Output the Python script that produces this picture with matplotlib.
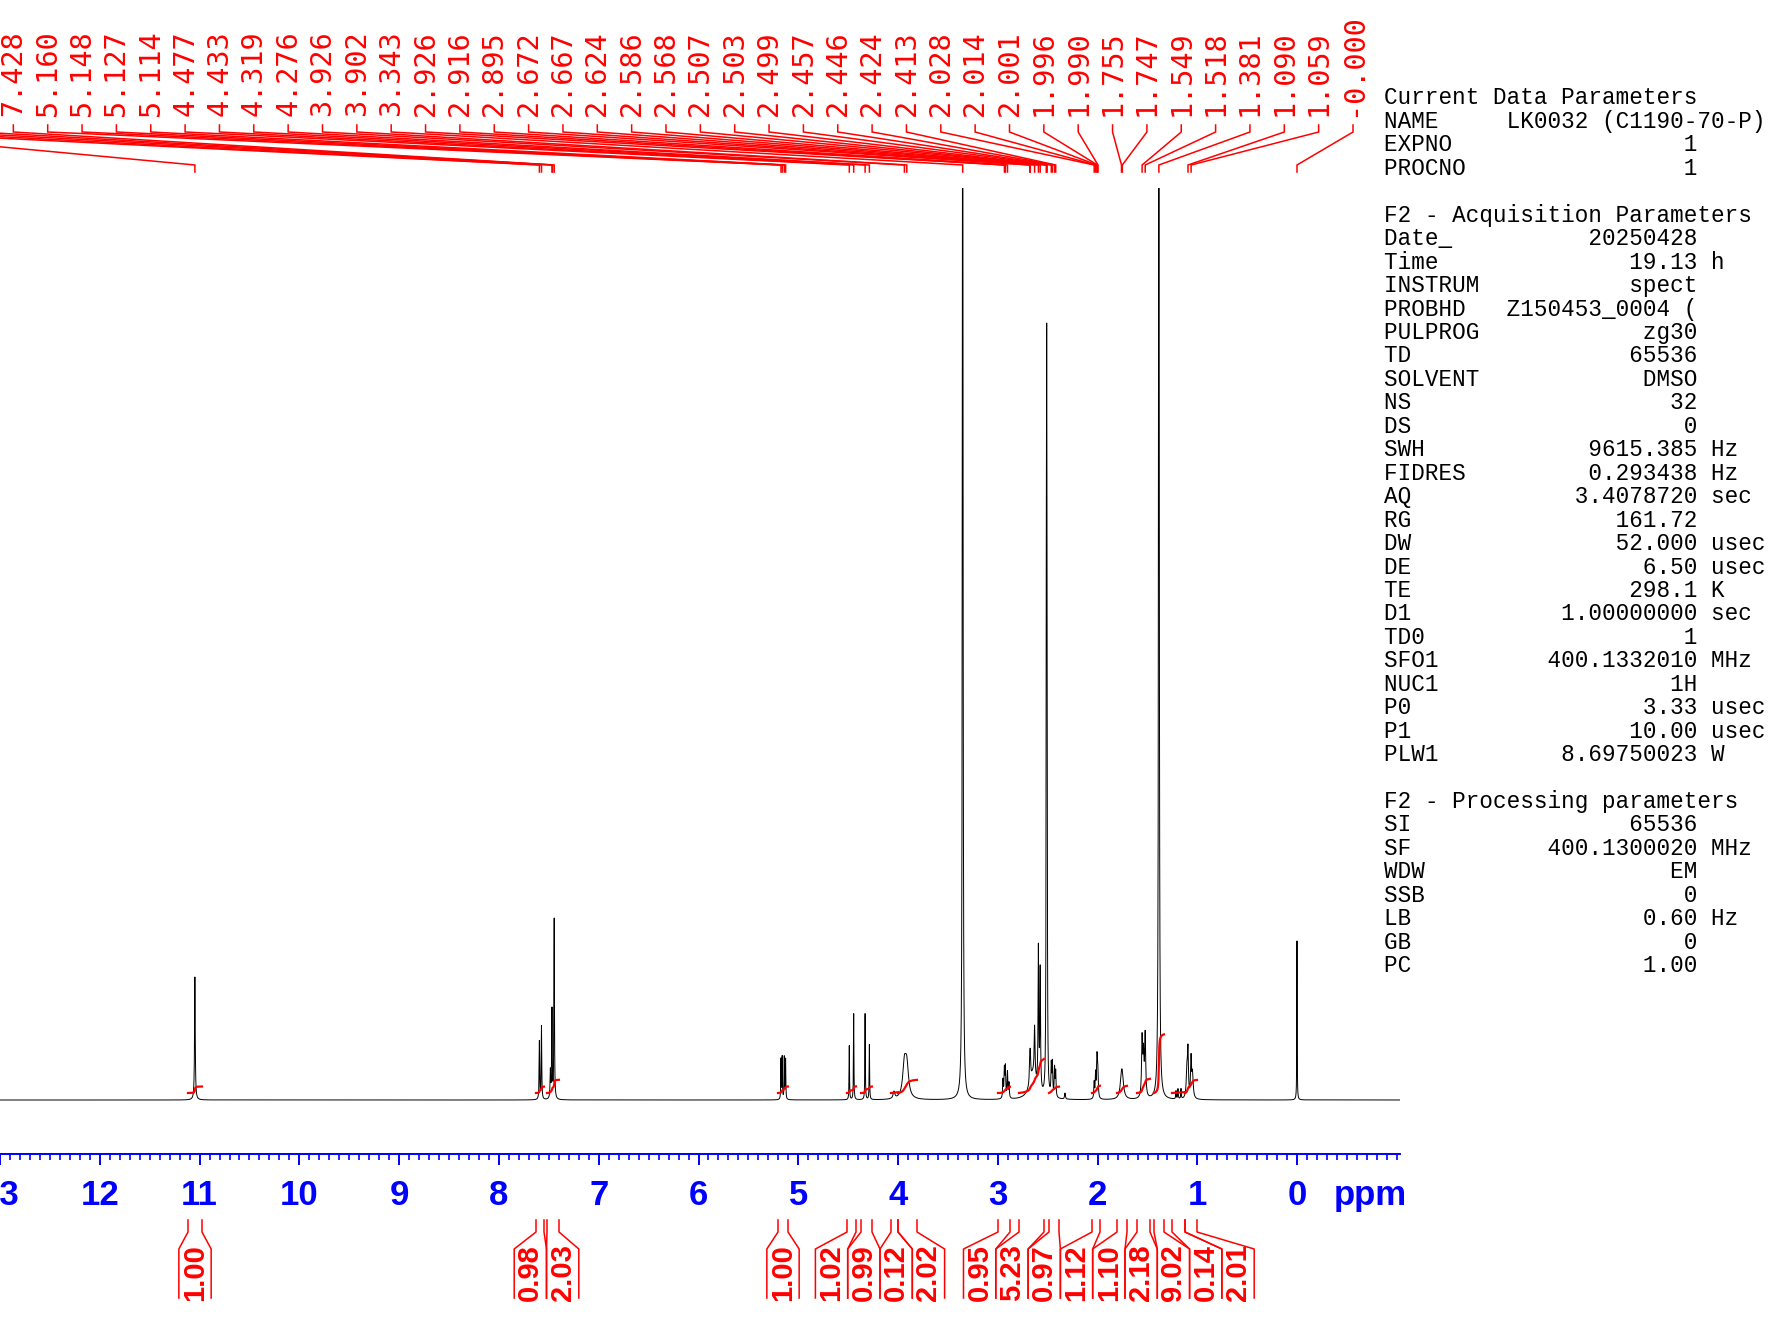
import numpy as np
import matplotlib
matplotlib.use("Agg")
import matplotlib.pyplot as plt

W, H = 1788, 1324

# ---- spectrum peaks: position (ppm), height (arb., 912 = top of plot), half width (ppm)
peak_ppm = [11.021, 7.576, 7.555, 7.466, 7.450, 7.428,
            5.160, 5.148, 5.127, 5.114,
            4.477, 4.433, 4.319, 4.276, 4.030, 3.926, 3.902,
            3.343, 2.940, 2.926, 2.916, 2.895, 2.880,
            2.640, 2.672, 2.667, 2.624, 2.586, 2.568,
            2.507, 2.503, 2.499, 2.457, 2.446, 2.424, 2.413, 2.320,
            2.028, 2.014, 2.001, 1.996, 1.990, 1.755, 1.747,
            1.549, 1.535, 1.518, 1.381, 1.210, 1.190, 1.160,
            1.100, 1.090, 1.059, 1.045, 0.000]
peak_height = [123, 58, 73, 28, 88, 180,
               40, 42, 42, 40,
               54, 86, 86, 55, 7, 32, 31,
               1200, 18, 28, 30, 26, 15,
               25, 20, 22, 50, 140, 120,
               380, 560, 380, 30, 32, 28, 25, 6,
               16, 24, 32, 26, 20, 17, 16,
               58, 40, 62, 1200, 8, 10, 10,
               30, 42, 38, 25, 159]
peak_width = [0.004, 0.003, 0.003, 0.004, 0.003, 0.003,
              0.0025, 0.0025, 0.0025, 0.0025,
              0.0025, 0.0025, 0.0025, 0.0025, 0.01, 0.02, 0.02,
              0.004, 0.004, 0.004, 0.004, 0.004, 0.004,
              0.04, 0.005, 0.005, 0.005, 0.004, 0.004,
              0.0025, 0.0025, 0.0025, 0.004, 0.004, 0.004, 0.004, 0.005,
              0.004, 0.004, 0.004, 0.004, 0.004, 0.015, 0.015,
              0.006, 0.006, 0.006, 0.004, 0.003, 0.003, 0.003,
              0.008, 0.005, 0.005, 0.008, 0.002]

# ---- peak picking labels (the first ones run off the page, only their leaders show)
peak_labels = ["11.021", "7.576", "7.555", "7.450", "7.445",
               "7.428", "5.160", "5.148", "5.127", "5.114", "4.477", "4.433",
               "4.319", "4.276", "3.926", "3.902", "3.343", "2.926", "2.916",
               "2.895", "2.672", "2.667", "2.624", "2.586", "2.568", "2.507",
               "2.503", "2.499", "2.457", "2.446", "2.424", "2.413", "2.028",
               "2.014", "2.001", "1.996", "1.990", "1.755", "1.747", "1.549",
               "1.518", "1.381", "1.090", "1.059", "-0.000"]

# ---- integrals
int_from = [11.09, 7.61, 7.50, 5.19, 4.50, 4.36, 4.06, 3.99, 2.99, 2.78, 2.48,
            2.05, 1.80, 1.60, 1.43, 1.25, 1.12]
int_to = [10.95, 7.53, 7.38, 5.09, 4.41, 4.25, 3.99, 3.80, 2.87, 2.53, 2.38,
          1.97, 1.70, 1.47, 1.33, 1.12, 1.00]
int_value = ["1.00", "0.98", "2.03", "1.00", "1.02", "0.99", "0.12", "2.02",
             "0.95", "5.23", "0.97", "1.12", "1.10", "2.18", "9.02", "0.14", "2.01"]

# ---- acquisition parameters
cur_rows = [("NAME", "LK0032 (C1190-70-P)", ""), ("EXPNO", "1", ""), ("PROCNO", "1", "")]
acq_rows = [("Date_", "20250428", ""), ("Time", "19.13", "h"), ("INSTRUM", "spect", ""),
            ("PROBHD", "Z150453_0004 (", ""), ("PULPROG", "zg30", ""), ("TD", "65536", ""),
            ("SOLVENT", "DMSO", ""), ("NS", "32", ""), ("DS", "0", ""),
            ("SWH", "9615.385", "Hz"), ("FIDRES", "0.293438", "Hz"),
            ("AQ", "3.4078720", "sec"), ("RG", "161.72", ""), ("DW", "52.000", "usec"),
            ("DE", "6.50", "usec"), ("TE", "298.1", "K"), ("D1", "1.00000000", "sec"),
            ("TD0", "1", ""), ("SFO1", "400.1332010", "MHz"), ("NUC1", "1H", ""),
            ("P0", "3.33", "usec"), ("P1", "10.00", "usec"), ("PLW1", "8.69750023", "W")]
proc_rows = [("SI", "65536", ""), ("SF", "400.1300020", "MHz"), ("WDW", "EM", ""),
             ("SSB", "0", ""), ("LB", "0.60", "Hz"), ("GB", "0", ""), ("PC", "1.00", "")]

RED = "#ff0000"
BLUE = "#0000ff"
narrow_bold = dict(family=["Liberation Sans Narrow", "Liberation Sans", "DejaVu Sans"],
                   weight="bold")

fig = plt.figure(figsize=(W / 100, H / 100), dpi=100)

# spectrum axes: top of plot at y=188px, baseline at y=1100px
top_px, base_px, pad_px = 188, 1100, 20
ax = fig.add_axes([0, 1 - (base_px + pad_px) / H, 1400 / W, (base_px + pad_px - top_px) / H])
ax.set_xlim(12.97, -1.03)
ax.set_ylim(-pad_px, base_px - top_px)
ax.axis("off")

x = np.arange(-1.03, 12.97, 0.0005)
y = np.zeros_like(x)
for p, h, w in zip(peak_ppm, peak_height, peak_width):
    y += h / (1 + ((x - p) / w) ** 2)
ax.plot(x, y, color="black", lw=0.7)

# integral curves
for a, b, v in zip(int_from, int_to, int_value):
    m = (x <= a) & (x >= b)
    xs = x[m][::-1]
    cs = np.cumsum(y[m][::-1])
    cs = cs / cs[-1]
    ax.plot(xs, 7 + cs * float(v) * 6.5, color=RED, lw=1.6)

# ppm ruler
rax = fig.add_axes([0, 1 - 1154 / H, 1400 / W, 0.0001])
rax.set_xlim(12.97, -1.03)
rax.set_ylim(0, 1)
for s in ["top", "left", "right"]:
    rax.spines[s].set_visible(False)
rax.spines["bottom"].set_color(BLUE)
rax.spines["bottom"].set_linewidth(1.4)
rax.set_yticks([])
rax.set_xticks(np.arange(13, -1, -1))
rax.set_xticks(np.arange(-1.0, 13.0, 0.1), minor=True)
rax.set_xticklabels([str(t) for t in range(13, -1, -1)], color=BLUE, fontsize=25, **narrow_bold)
rax.tick_params(axis="x", which="major", length=8, width=1.4, color=BLUE, pad=10)
rax.tick_params(axis="x", which="minor", length=4, width=1.2, color=BLUE)

# overlay in pixel coordinates
ov = fig.add_axes([0, 0, 1, 1], facecolor="none")
ov.set_xlim(0, W)
ov.set_ylim(H, 0)
ov.axis("off")


def px(ppm):
    return ax.transData.transform((ppm, 0))[0]


ov.text(1370, 1196, "ppm", color=BLUE, fontsize=25, ha="center", va="center", **narrow_bold)

# peak labels
n = len(peak_labels)
step = 34.35
for i, lab in enumerate(peak_labels):
    lx = 1353 - (n - 1 - i) * step
    pxx = px(float(lab))
    if lx > 0:
        ov.text(lx, 116, lab, rotation=90, ha="center", va="bottom", color=RED,
                fontsize=20.5, family="DejaVu Sans Mono")
    ov.plot([lx, lx, pxx, pxx], [125, 132, 165, 172], color=RED, lw=1.1,
            solid_joinstyle="miter")

# integral labels, spread so boxes do not overlap
bw = 32.3
cent = [(px(a) + px(b)) / 2 for a, b in zip(int_from, int_to)]
groups = [[c] for c in cent]
merged = True
while merged:
    merged = False
    out = []
    for g in groups:
        if out:
            prev = out[-1]
            if np.mean(g) - len(g) * bw / 2 < np.mean(prev) + len(prev) * bw / 2:
                out[-1] = prev + g
                merged = True
                continue
        out.append(g)
    groups = out
box_c = []
for g in groups:
    start = np.mean(g) - (len(g) - 1) * bw / 2
    box_c += [start + k * bw for k in range(len(g))]

for a, b, v, c in zip(int_from, int_to, int_value, box_c):
    xa, xb = px(a), px(b)
    ov.plot([xa, xa, c - bw / 2, c - bw / 2], [1220, 1232, 1249, 1298], color=RED, lw=1.1)
    ov.plot([xb, xb, c + bw / 2, c + bw / 2], [1220, 1232, 1249, 1298], color=RED, lw=1.1)
    ov.text(c, 1273, v, rotation=90, ha="center", va="center", color=RED,
            fontsize=21, **narrow_bold)

# parameter block
lines = ["Current Data Parameters"]
lines += [f"{k:<9}{v:>14} {u}".rstrip() for k, v, u in cur_rows]
lines += ["", "F2 - Acquisition Parameters"]
lines += [f"{k:<9}{v:>14} {u}".rstrip() for k, v, u in acq_rows]
lines += ["", "F2 - Processing parameters"]
lines += [f"{k:<9}{v:>14} {u}".rstrip() for k, v, u in proc_rows]
for i, ln in enumerate(lines):
    ov.text(1384, 98 + i * 23.45, ln, ha="left", va="center", fontsize=16.3,
            family="Liberation Mono", color="black")

fig.savefig("out.png", dpi=100)
